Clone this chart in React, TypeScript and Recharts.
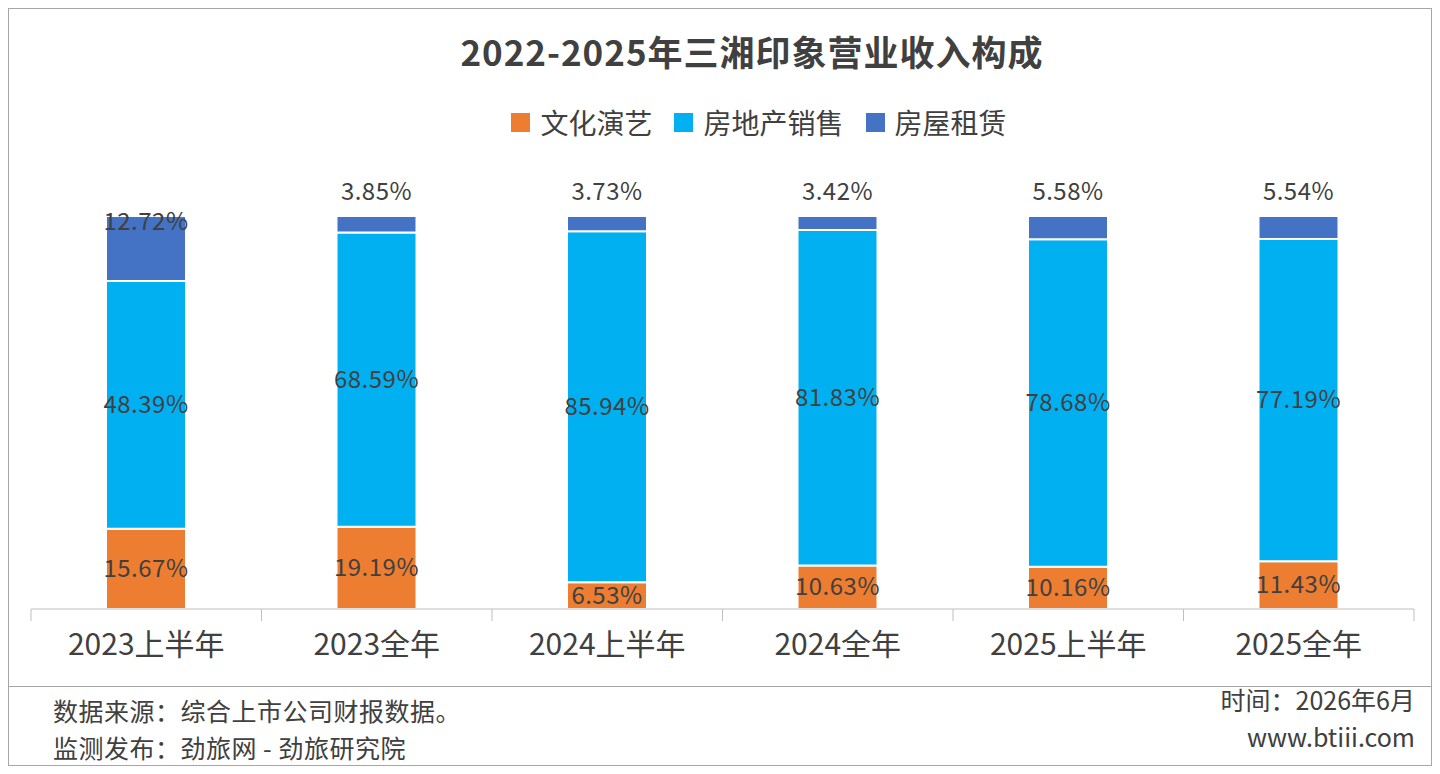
import React from "react";
import { BarChart, Bar, XAxis, YAxis, LabelList } from "recharts";

const categories = ["2023上半年", "2023全年", "2024上半年", "2024全年", "2025上半年", "2025全年"];
const culture = [15.67, 19.19, 6.53, 10.63, 10.16, 11.43];
const realEstate = [48.39, 68.59, 85.94, 81.83, 78.68, 77.19];
const rental = [12.72, 3.85, 3.73, 3.42, 5.58, 5.54];

const data = categories.map((c, i) => ({ name: c, a: culture[i], b: realEstate[i], c: rental[i] }));
const FONT = '"Noto Sans CJK SC", "Noto Sans", sans-serif';
const TXT = "#404040";

const CenterLabel = (props: any) => {
  const { x, y, width, height, value } = props;
  return (
    <text x={x + width / 2} y={y + height / 2} dy={8} textAnchor="middle" fontSize={24} fill={TXT} fontFamily={FONT} letterSpacing={0.5}>
      {value.toFixed(2)}%
    </text>
  );
};
const TopLabel = (props: any) => {
  const { x, y, width, height, value } = props;
  const yy = height > 40 ? y + 6 : y - 24;
  return (
    <text x={x + width / 2} y={yy} dy={8} textAnchor="middle" fontSize={24} fill={TXT} fontFamily={FONT} letterSpacing={0.5}>
      {value.toFixed(2)}%
    </text>
  );
};

const BAND = 230.5;
const Tick = (props: any) => {
  const { x, y, payload, index } = props;
  return (
    <g>
      <line x1={x - BAND / 2} x2={x - BAND / 2} y1={y - 8} y2={y + 4} stroke="#bfbfbf" />
      {index === categories.length - 1 && (
        <line x1={x + BAND / 2} x2={x + BAND / 2} y1={y - 8} y2={y + 4} stroke="#bfbfbf" />
      )}
      <text x={x} y={y + 38} textAnchor="middle" fontSize={30} fill={TXT} fontFamily={FONT}>
        {payload.value}
      </text>
    </g>
  );
};

const legend = [
  { name: "文化演艺", color: "#ED7D31" },
  { name: "房地产销售", color: "#00B0F0" },
  { name: "房屋租赁", color: "#4472C4" },
];

export default function App() {
  return (
    <div style={{ position: "relative", width: 1424, height: 758, border: "1px solid #a6a6a6", boxSizing: "border-box", fontFamily: FONT, background: "#fff" }}>
      <div style={{ position: "absolute", top: 16, left: 31, width: 1424, textAlign: "center", fontSize: 35, fontWeight: "bold", color: TXT, letterSpacing: 1 }}>
        2022-2025年三湘印象营业收入构成
      </div>
      <div style={{ position: "absolute", top: 93, left: 38, width: 1424, display: "flex", justifyContent: "center", gap: 22, fontSize: 28, color: TXT }}>
        {legend.map((l) => (
          <div key={l.name} style={{ display: "flex", alignItems: "center" }}>
            <span style={{ width: 19, height: 19, background: l.color, marginRight: 10, display: "inline-block" }} />
            {l.name}
          </div>
        ))}
      </div>
      <div style={{ position: "absolute", left: 0 }}>
        <BarChart width={1424} height={680} data={data} stackOffset="expand" barSize={80}
          margin={{ top: 207, right: 19, left: 22, bottom: 0 }}>
          <XAxis dataKey="name" height={80} tick={<Tick />} tickLine={false} axisLine={{ stroke: "#bfbfbf" }} interval={0} />
          <YAxis hide domain={[0, 1]} />
          <Bar dataKey="a" stackId="s" fill="#ED7D31" stroke="#fff" strokeWidth={2} isAnimationActive={false}>
            <LabelList dataKey="a" content={<CenterLabel />} />
          </Bar>
          <Bar dataKey="b" stackId="s" fill="#00B0F0" stroke="#fff" strokeWidth={2} isAnimationActive={false}>
            <LabelList dataKey="b" content={<CenterLabel />} />
          </Bar>
          <Bar dataKey="c" stackId="s" fill="#4472C4" stroke="#fff" strokeWidth={2} isAnimationActive={false}>
            <LabelList dataKey="c" content={<TopLabel />} />
          </Bar>
        </BarChart>
      </div>
      <div style={{ position: "absolute", top: 677, left: 0, width: 1422, borderTop: "1px solid #a6a6a6" }} />
      <div style={{ position: "absolute", top: 683, left: 44, fontSize: 25, color: TXT, lineHeight: "37px", letterSpacing: 0.5 }}>
        <div>数据来源：综合上市公司财报数据。</div>
        <div>监测发布：劲旅网 - 劲旅研究院</div>
      </div>
      <div style={{ position: "absolute", top: 672, right: 16, fontSize: 25, color: TXT, lineHeight: "37px", textAlign: "right" }}>
        <div>时间：2026年6月</div>
        <div>www.btiii.com</div>
      </div>
    </div>
  );
}
